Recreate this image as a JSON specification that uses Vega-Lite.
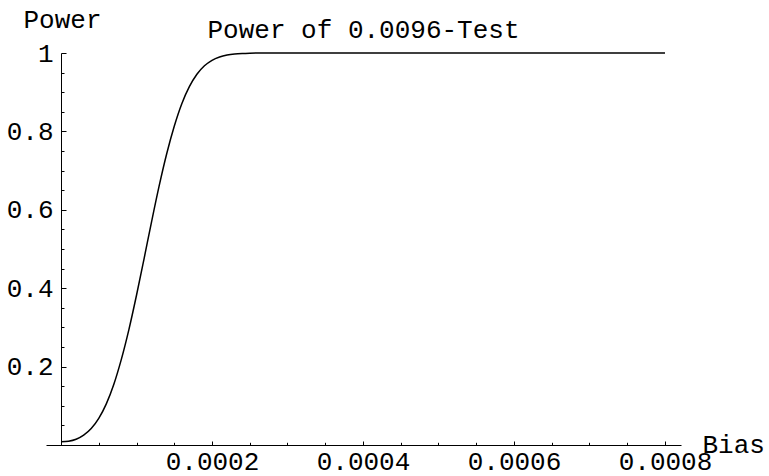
{
  "$schema": "https://vega.github.io/schema/vega-lite/v6.json",
  "autosize": {"type": "none"},
  "width": 635,
  "height": 392,
  "padding": {"left": 46, "top": 53, "right": 88, "bottom": 31},
  "background": "white",
  "config": {"view": {"stroke": null}, "font": "Liberation Mono"},
  "title": {"text": "Power of 0.0096-Test", "font": "Liberation Mono", "fontSize": 26, "fontWeight": "normal", "color": "black", "anchor": "middle", "baseline": "alphabetic", "offset": 16, "dy": 74},
  "data": {"values": [
    {"bias": 0, "power": 0.008},
    {"bias": 0.00001, "power": 0.0095},
    {"bias": 0.00002, "power": 0.0145},
    {"bias": 0.00003, "power": 0.025},
    {"bias": 0.00004, "power": 0.042},
    {"bias": 0.00005, "power": 0.068},
    {"bias": 0.00006, "power": 0.105},
    {"bias": 0.00007, "power": 0.155},
    {"bias": 0.00008, "power": 0.219},
    {"bias": 0.00009, "power": 0.295},
    {"bias": 0.0001, "power": 0.382},
    {"bias": 0.00011, "power": 0.475},
    {"bias": 0.00012, "power": 0.570},
    {"bias": 0.00013, "power": 0.661},
    {"bias": 0.00014, "power": 0.743},
    {"bias": 0.00015, "power": 0.813},
    {"bias": 0.00016, "power": 0.8705},
    {"bias": 0.00017, "power": 0.914},
    {"bias": 0.00018, "power": 0.9457},
    {"bias": 0.00019, "power": 0.9673},
    {"bias": 0.0002, "power": 0.9813},
    {"bias": 0.00021, "power": 0.9898},
    {"bias": 0.00022, "power": 0.9947},
    {"bias": 0.00023, "power": 0.9974},
    {"bias": 0.00024, "power": 0.9988},
    {"bias": 0.00025, "power": 0.9995},
    {"bias": 0.00026, "power": 0.9998},
    {"bias": 0.00027, "power": 0.99995},
    {"bias": 0.0003, "power": 1},
    {"bias": 0.0004, "power": 1},
    {"bias": 0.0005, "power": 1},
    {"bias": 0.0006, "power": 1},
    {"bias": 0.0007, "power": 1},
    {"bias": 0.0008, "power": 1}
  ]},
  "mark": {"type": "line", "color": "black", "strokeWidth": 1.5, "interpolate": "monotone", "clip": false},
  "encoding": {
    "x": {
      "field": "bias", "type": "quantitative",
      "scale": {"domain": [-0.00001987, 0.0008212], "nice": false, "zero": false},
      "axis": {
        "orient": "bottom",
        "values": [0.00005, 0.0001, 0.00015, 0.0002, 0.00025, 0.0003, 0.00035, 0.0004, 0.00045, 0.0005, 0.00055, 0.0006, 0.00065, 0.0007, 0.00075, 0.0008],
        "labelExpr": "abs(datum.value/0.0002 - round(datum.value/0.0002)) < 1e-6 ? format(datum.value, '.4f') : ''",
        "tickSize": {"condition": {"test": "abs(datum.value/0.0002 - round(datum.value/0.0002)) < 1e-6", "value": -4}, "value": -2.7},
        "labelPadding": 7,
        "labelBaseline": "top",
        "labelAlign": "center",
        "labelFont": "Liberation Mono",
        "labelFontSize": 26,
        "labelColor": "black",
        "labelOverlap": false,
        "labelFlush": false,
        "tickColor": "black",
        "tickWidth": 1,
        "domainColor": "black",
        "domainWidth": 1,
        "grid": false,
        "title": "Bias",
        "titleFont": "Liberation Mono",
        "titleFontSize": 26,
        "titleFontWeight": "normal",
        "titleColor": "black",
        "titleAlign": "left",
        "titleBaseline": "alphabetic",
        "titleX": 656,
        "titleY": 7
      }
    },
    "y": {
      "field": "power", "type": "quantitative",
      "scale": {"domain": [0, 1], "nice": false, "zero": false},
      "axis": {
        "orient": "left",
        "offset": -15,
        "values": [0.05, 0.1, 0.15, 0.2, 0.25, 0.3, 0.35, 0.4, 0.45, 0.5, 0.55, 0.6, 0.65, 0.7, 0.75, 0.8, 0.85, 0.9, 0.95, 1],
        "labelExpr": "abs(datum.value/0.2 - round(datum.value/0.2)) < 1e-6 ? (datum.value > 0.99 ? '1' : format(datum.value, '.1f')) : ''",
        "tickSize": {"condition": {"test": "abs(datum.value/0.2 - round(datum.value/0.2)) < 1e-6", "value": -5}, "value": -3},
        "labelPadding": 13,
        "labelAlign": "right",
        "labelBaseline": "middle",
        "labelFont": "Liberation Mono",
        "labelFontSize": 26,
        "labelColor": "black",
        "labelOverlap": false,
        "labelFlush": false,
        "tickColor": "black",
        "tickWidth": 1,
        "domainColor": "black",
        "domainWidth": 1,
        "grid": false,
        "title": "Power",
        "titleFont": "Liberation Mono",
        "titleFontSize": 26,
        "titleFontWeight": "normal",
        "titleColor": "black",
        "titleAngle": 0,
        "titleAlign": "left",
        "titleBaseline": "alphabetic",
        "titleX": -38,
        "titleY": -26
      }
    }
  }
}
